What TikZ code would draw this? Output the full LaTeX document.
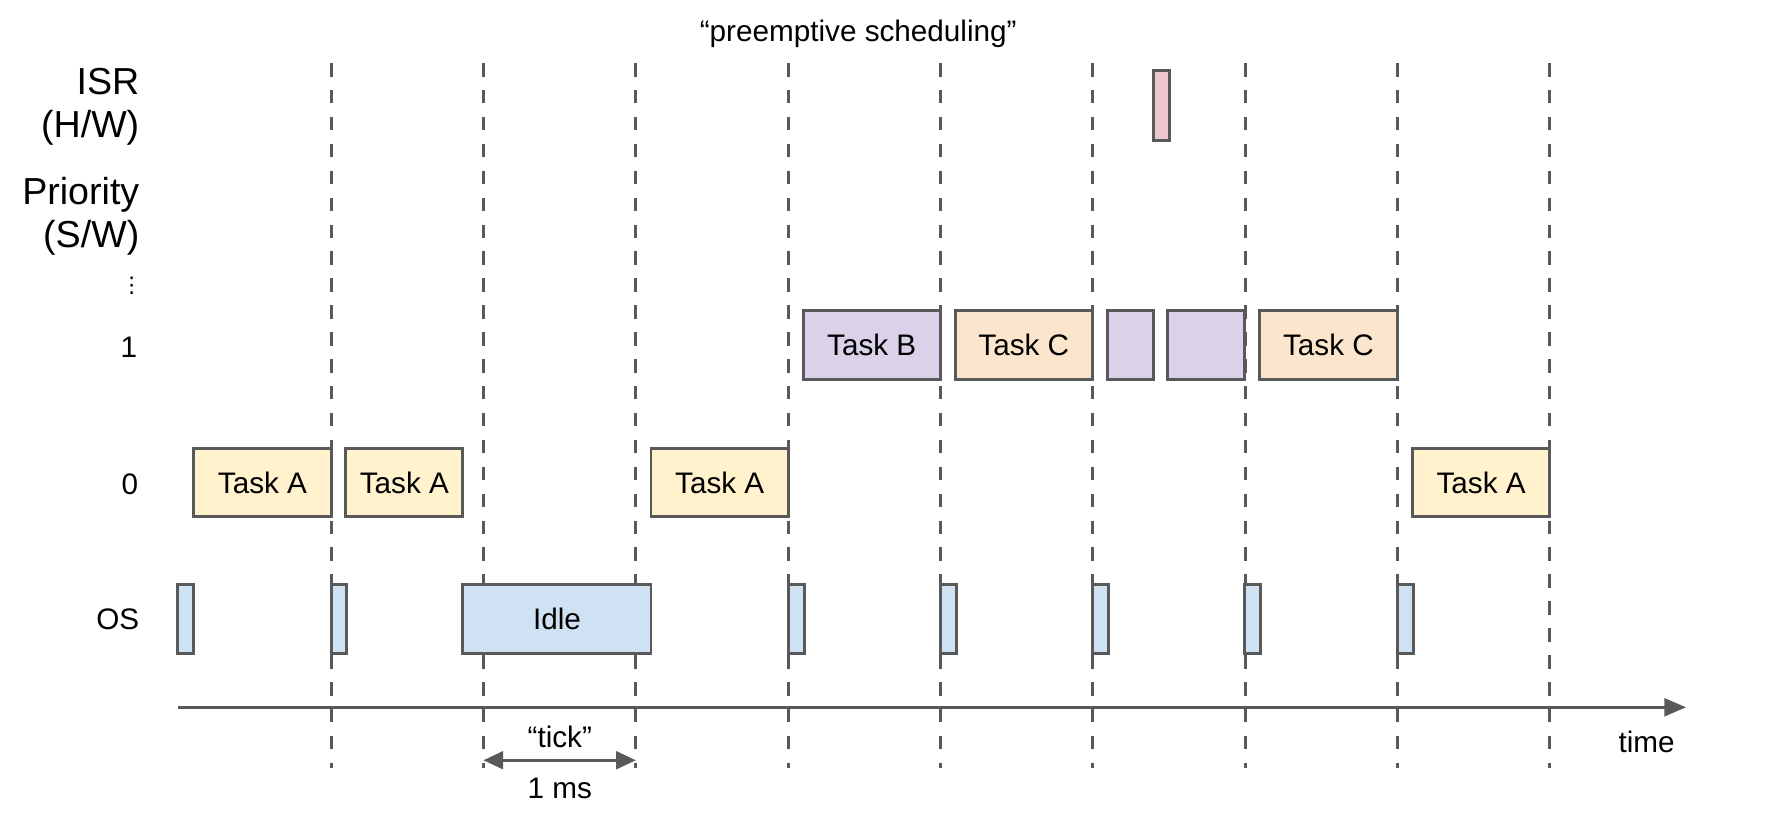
\documentclass[tikz,border=0pt]{standalone}
\usepackage{fontspec}
\setmainfont{Liberation Sans}
\newfontfamily\dotsfont{DejaVu Sans}
\usepackage{tikz}
\usetikzlibrary{arrows.meta}
\definecolor{edge}{HTML}{595959}
\definecolor{osblue}{HTML}{CFE2F3}
\definecolor{taska}{HTML}{FFF2CC}
\definecolor{taskb}{HTML}{D9D2E9}
\definecolor{taskc}{HTML}{FCE5CD}
\definecolor{isrpink}{HTML}{EBC8CD}

\begin{document}
\begin{tikzpicture}[x=0.02cm,y=-0.02cm,
        slot/.style={draw=edge,line width=1.5pt,minimum height=1.22cm,inner sep=0pt,outer sep=0pt,anchor=west,font=\fontsize{15}{18}\selectfont},
        wide/.style={minimum width=#1*0.02cm},
        rowlabel/.style={anchor=east,align=right,inner sep=0pt,font=\fontsize{19}{22}\selectfont},
        level/.style={anchor=east,inner sep=0pt,font=\fontsize{15}{18}\selectfont},
        plain/.style={inner sep=0pt,font=\fontsize{15}{18}\selectfont},
        tickline/.style={draw=edge,line width=1.4pt,dash pattern=on 6.8pt off 6.8pt},
        >={Triangle[length=10pt,width=9pt]}]
        \useasboundingbox (0,0) rectangle (1568,733);
        % one dashed line per tick
        \foreach \k in {0,...,8}
                \draw[tickline] ({294+135.25*\k},56) -- ({294+135.25*\k},682);
        % row labels
        \node[rowlabel] (lisr) at (124,95) {ISR\\(H/W)};
        \node[rowlabel] (lprio) at (124,192) {Priority\\(S/W)};
        \node[level,font=\fontsize{11}{13}\dotsfont] (ldots) at (127,254) {⋮};
        \node[level] (lone) at (122,308) {1};
        \node[level] (lzero) at (123,430) {0};
        \node[level] (los) at (124,550) {OS};
        \node[plain] (title) at (762,30) {“preemptive scheduling”};
        % ISR
        \node[slot,fill=isrpink,wide=14,minimum height=1.24cm] (isr) at (1024,94) {};
        % priority 1
        \node[slot,fill=taskb,wide=122] (b1) at (713,306.5) {Task B};
        \node[slot,fill=taskc,wide=122] (c1) at (848,306.5) {Task C};
        \node[slot,fill=taskb,wide=41] (b2) at (983,306.5) {};
        \node[slot,fill=taskb,wide=68] (b3) at (1037,306.5) {};
        \node[slot,fill=taskc,wide=123] (c2) at (1118,306.5) {Task C};
        % priority 0
        \node[slot,fill=taska,wide=122] (a1) at (172,428.5) {Task A};
        \node[slot,fill=taska,wide=104] (a2) at (307,428.5) {Task A};
        \node[slot,fill=taska,wide=122] (a3) at (578,428.5) {Task A};
        \node[slot,fill=taska,wide=122] (a4) at (1254,428.5) {Task A};
        % OS
        \node[slot,fill=osblue,wide=167] (idle) at (411,549.5) {Idle};
        \foreach \t [count=\i] in {158,294,700,835,970,1105,1241}
                \node[slot,fill=osblue,wide=14] (os\i) at (\t,549.5) {};
        % time axis
        \coordinate (t0) at (158,628);
        \coordinate (t1) at (1497,628);
        \draw[edge,line width=1.5pt,-{Triangle[length=11pt,width=9pt]}] (t0) -- (t1);
        \node[plain] (time) at (1462,659) {time};
        \coordinate (tl) at (429.25,675);
        \coordinate (tr) at (564.5,675);
        \draw[edge,line width=1.5pt,<->] (tl) -- (tr);
        \node[plain] (tick) at (497,654) {“tick”};
        \node[plain] (ms) at (497,700) {1 ms};
\end{tikzpicture}
\end{document}
